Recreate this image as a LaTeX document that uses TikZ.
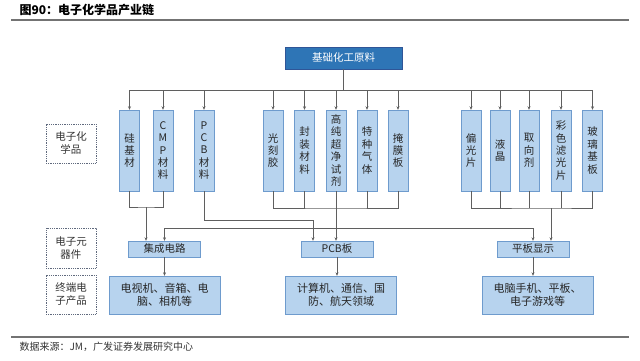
\documentclass[tikz,border=0pt]{standalone}
\usepackage{fontspec}
\setmainfont{Noto Sans CJK SC}
\usetikzlibrary{arrows.meta, positioning, calc}
\definecolor{rawblue}{RGB}{46,117,182}
\definecolor{rawedge}{RGB}{47,85,151}
\definecolor{boxfill}{RGB}{183,211,238}
\definecolor{boxedge}{RGB}{110,155,205}
\definecolor{linegray}{RGB}{95,95,95}
\definecolor{taggray}{RGB}{95,105,125}
\tikzset{
  rawbox/.style={draw=rawedge, fill=rawblue, text=white, minimum width=117pt, minimum height=22pt, inner sep=0pt, font=\fontsize{10.5}{12}\selectfont},
  matbox/.style={draw=boxedge, fill=boxfill, minimum width=20pt, minimum height=81pt, inner sep=0pt, align=center, text=black!85, font=\fontsize{10.5}{12.4}\selectfont},
  devbox/.style={draw=boxedge, fill=boxfill, minimum width=72pt, minimum height=16pt, inner sep=0pt, text=black!85, font=\fontsize{10.5}{12}\selectfont},
  prodbox/.style={draw=boxedge, fill=boxfill, minimum width=111pt, minimum height=38pt, inner sep=0pt, align=center, text=black!85, font=\fontsize{11}{13}\selectfont},
  tagbox/.style={draw=taggray, densely dotted, thick, minimum width=50pt, minimum height=39pt, inner sep=0pt, align=center, text=black!80, font=\fontsize{10.5}{13}\selectfont},
  wire/.style={draw=linegray, line width=0.9pt},
  arr/.style={wire, -{Stealth[length=3.5pt, width=3pt]}}
}
\begin{document}
\begin{tikzpicture}[x=1pt, y=-1pt]
    \useasboundingbox (0,0) rectangle (640,360);
    % title and rules
    \node[anchor=west, font=\fontsize{12}{14}\selectfont\bfseries] (title) at (16,10) {图90：电子化学品产业链};
    \draw[draw=black!55, line width=1.4pt] (11,20) -- (629,20);
    \draw[draw=black!55, line width=1.4pt] (11,337) -- (629,337);
    \node[anchor=west, font=\fontsize{10}{12}\selectfont, text=black!80] (source) at (16,347) {数据来源：JM，广发证券发展研究中心};

    % raw material
    \node[rawbox] (raw) at (343.5,58) {基础化工原料};

    % electronic chemicals
    \node[matbox] (m1) at (129.5,150.5) {硅\\基\\材};
    \node[matbox] (m2) at (163,150.5) {C\\M\\P\\材\\料};
    \node[matbox] (m3) at (204,150.5) {P\\C\\B\\材\\料};
    \node[matbox] (m4) at (273,150.5) {光\\刻\\胶};
    \node[matbox] (m5) at (304.5,150.5) {封\\装\\材\\料};
    \node[matbox] (m6) at (336,150.5) {高\\纯\\超\\净\\试\\剂};
    \node[matbox] (m7) at (367,150.5) {特\\种\\气\\体};
    \node[matbox] (m8) at (398,150.5) {掩\\膜\\板};
    \node[matbox] (m9) at (471,150.5) {偏\\光\\片};
    \node[matbox] (m10) at (500,150.5) {液\\晶};
    \node[matbox] (m11) at (529,150.5) {取\\向\\剂};
    \node[matbox] (m12) at (561,150.5) {彩\\色\\滤\\光\\片};
    \node[matbox] (m13) at (592.5,150.5) {玻\\璃\\基\\板};

    % components
    \node[devbox] (ic) at (164.5,249) {集成电路};
    \node[devbox] (pcb) at (337,249) {PCB板};
    \node[devbox] (fpd) at (533,249) {平板显示};

    % end products
    \node[prodbox] (tv) at (164.5,295) {电视机、音箱、电\\脑、相机等};
    \node[prodbox] (comp) at (341,295) {计算机、通信、国\\防、航天领域};
    \node[prodbox] (phone) at (537.5,295) {电脑手机、平板、\\电子游戏等};

    % row tags
    \node[tagbox] (tagchem) at (71,143.5) {电子化\\学品};
    \node[tagbox, minimum height=40pt] (tagdev) at (71,248) {电子元\\器件};
    \node[tagbox] (tagprod) at (71,294.5) {终端电\\子产品};

    % raw material to chemicals
    \coordinate (busL) at (129.5,90);
    \coordinate (busR) at (592.5,90);
    \draw[wire] (raw.south) -- (raw.south |- busL);
    \draw[wire] (busL) -- (busR);
    \draw[arr] (m1.north |- busL) -- (m1.north);
    \draw[arr] (m2.north |- busL) -- (m2.north);
    \draw[arr] (m3.north |- busL) -- (m3.north);
    \draw[arr] (m4.north |- busL) -- (m4.north);
    \draw[arr] (m5.north |- busL) -- (m5.north);
    \draw[arr] (m6.north |- busL) -- (m6.north);
    \draw[arr] (m7.north |- busL) -- (m7.north);
    \draw[arr] (m8.north |- busL) -- (m8.north);
    \draw[arr] (m9.north |- busL) -- (m9.north);
    \draw[arr] (m10.north |- busL) -- (m10.north);
    \draw[arr] (m11.north |- busL) -- (m11.north);
    \draw[arr] (m12.north |- busL) -- (m12.north);
    \draw[arr] (m13.north |- busL) -- (m13.north);

    % chemicals to components
    \coordinate (j1) at (146,207);
    \coordinate (j3) at (313,220);
    \coordinate (j4) at (336,208);
    \coordinate (j6) at (336,228);
    \coordinate (j9) at (551,208);
    \draw[wire] (m1.south) |- (j1) -| (m2.south);
    \draw[arr] (j1) -- (j1 |- ic.north);
    \draw[arr] (m3.south) |- (j3) -- (j3 |- pcb.north);
    \draw[wire] (m4.south) |- (j4) -| (m8.south);
    \draw[wire] (m5.south) -- (m5.south |- j4);
    \draw[wire] (m7.south) -- (m7.south |- j4);
    \draw[arr] (m6.south) -- (m6.south |- pcb.north);
    \draw[arr] (j6) -| (ic.north);
    \draw[arr] (j6) -| (fpd.north);
    \draw[wire] (m9.south) |- (j9) -| (m13.south);
    \draw[wire] (m10.south) -- (m10.south |- j9);
    \draw[wire] (m11.south) -- (m11.south |- j9);
    \draw[wire] (m12.south) -- (m12.south |- j9);
    \draw[arr] (j9) -- (j9 |- fpd.north);

    % components to end products
    \draw[arr] (ic.south) -- (ic.south |- tv.north);
    \draw[arr] (pcb.south) -- (pcb.south |- comp.north);
    \draw[arr] (fpd.south) -- (fpd.south |- phone.north);
\end{tikzpicture}
\end{document}
